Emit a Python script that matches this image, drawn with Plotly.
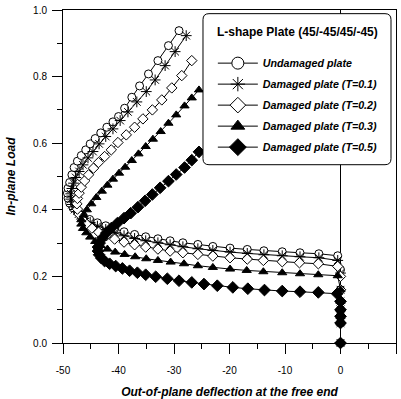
import plotly.graph_objects as go

# ---------------- data ----------------
undamaged_x = [0, 0, 0, 0, 0, 0, 0,
               -0.5, -3.9, -7.3, -10.5, -13.8, -16.8, -19.9, -23.0, -25.7, -28.4,
               -30.7, -32.9, -35.1, -37.1, -39.0, -40.7, -42.3, -43.8, -45.2, -46.4,
               -47.4, -48.2, -48.8, -49.1, -49.2, -49.1, -48.8, -48.4, -48.0, -47.4,
               -46.7, -45.9, -45.1, -44.2, -43.2, -42.1, -41.0, -40.0, -38.9, -37.6,
               -36.2, -34.6, -32.9, -31.0, -29.1]
undamaged_y = [0, 0.06, 0.08, 0.10, 0.125, 0.16, 0.22,
               0.262, 0.268, 0.271, 0.274, 0.277, 0.281, 0.285, 0.290, 0.296, 0.301,
               0.307, 0.313, 0.319, 0.326, 0.334, 0.343, 0.352, 0.361, 0.371, 0.382,
               0.394, 0.406, 0.420, 0.435, 0.450, 0.465, 0.482, 0.505, 0.527, 0.546,
               0.563, 0.580, 0.598, 0.614, 0.631, 0.648, 0.664, 0.680, 0.705, 0.738,
               0.772, 0.808, 0.848, 0.893, 0.938]

t01_x = [0, 0, 0, 0, 0, 0, 0,
         -0.5, -3.9, -7.3, -10.5, -13.8, -16.8, -19.9, -23.0, -25.7, -28.4,
         -30.7, -32.9, -35.1, -37.1, -39.0, -40.7, -42.3, -43.8, -45.1, -46.3,
         -47.2, -47.9, -48.4, -48.6, -48.6, -48.4, -48.1, -47.7, -47.1, -46.4,
         -45.5, -44.6, -43.5, -42.3, -41.0, -39.7, -38.3, -36.7, -35.0, -33.4,
         -31.6, -29.8, -27.8]
t01_y = [0, 0.06, 0.08, 0.10, 0.125, 0.16, 0.21,
         0.248, 0.256, 0.259, 0.262, 0.265, 0.269, 0.273, 0.278, 0.283, 0.289,
         0.295, 0.301, 0.307, 0.314, 0.322, 0.331, 0.341, 0.351, 0.362, 0.374,
         0.387, 0.401, 0.416, 0.432, 0.448, 0.464, 0.480, 0.497, 0.515, 0.535,
         0.556, 0.575, 0.598, 0.620, 0.643, 0.668, 0.694, 0.724, 0.755, 0.790,
         0.833, 0.875, 0.923]

t02_x = [0, 0, 0, 0, 0, 0, 0,
         -0.5, -4.0, -7.4, -10.5, -13.9, -16.8, -19.9, -23.0, -25.7, -28.4,
         -30.7, -32.9, -35.1, -37.1, -39.0, -40.7, -42.2, -43.6, -44.8, -45.8,
         -46.6, -47.1, -47.4, -47.5, -47.4, -47.1, -46.7, -46.1, -45.4, -44.5,
         -43.6, -42.5, -41.3, -40.1, -38.6, -37.1, -35.6, -33.9, -32.2, -30.4,
         -28.6, -26.8]
t02_y = [0, 0.06, 0.08, 0.10, 0.125, 0.16, 0.20,
         0.230, 0.238, 0.241, 0.244, 0.248, 0.252, 0.256, 0.261, 0.266, 0.271,
         0.276, 0.282, 0.288, 0.295, 0.303, 0.312, 0.322, 0.333, 0.345, 0.358,
         0.372, 0.387, 0.402, 0.418, 0.434, 0.450, 0.468, 0.487, 0.505, 0.525,
         0.542, 0.560, 0.580, 0.602, 0.625, 0.648, 0.673, 0.700, 0.730, 0.766,
         0.803, 0.848]

t03_x = [0, 0, 0, 0, 0, 0,
         -0.5, -4.0, -7.3, -10.5, -13.9, -16.9, -19.9, -23.0, -25.7, -28.2,
         -30.6, -32.9, -35.0, -37.0, -38.9, -40.6, -42.0, -43.2, -44.2, -45.1,
         -45.8, -46.4, -46.7, -46.7, -46.3, -45.7, -44.9, -44.0, -43.0, -42.0,
         -41.0, -39.9, -38.8, -37.6, -36.4, -35.1, -33.8, -32.4, -31.0, -29.6,
         -28.1, -26.8, -25.5]
t03_y = [0, 0.06, 0.08, 0.10, 0.125, 0.16,
         0.202, 0.205, 0.208, 0.211, 0.214, 0.218, 0.222, 0.227, 0.232, 0.238,
         0.243, 0.248, 0.253, 0.259, 0.266, 0.273, 0.282, 0.293, 0.305, 0.318,
         0.331, 0.344, 0.357, 0.370, 0.384, 0.400, 0.418, 0.437, 0.456, 0.474,
         0.492, 0.510, 0.528, 0.548, 0.568, 0.590, 0.612, 0.635, 0.660, 0.685,
         0.712, 0.736, 0.760]

t05_x = [0, 0, 0, 0, 0,
         -0.6, -4.0, -7.3, -10.5, -13.7, -16.7, -19.4, -22.2, -24.6, -26.8,
         -29.1, -31.2, -33.3, -35.1, -36.6, -38.0, -39.3, -40.5, -41.6, -42.5,
         -43.1, -43.5, -43.7, -43.7, -43.4, -42.9, -42.2, -41.3, -40.2, -39.0,
         -37.8, -36.5, -35.2, -33.9, -32.5, -31.0, -29.6, -28.1, -26.8, -25.5]
t05_y = [0, 0.06, 0.08, 0.10, 0.125,
         0.148, 0.152, 0.154, 0.156, 0.159, 0.163, 0.167, 0.172, 0.177, 0.182,
         0.187, 0.193, 0.199, 0.205, 0.211, 0.217, 0.224, 0.231, 0.238, 0.246,
         0.255, 0.265, 0.276, 0.288, 0.300, 0.315, 0.330, 0.345, 0.360, 0.375,
         0.390, 0.408, 0.427, 0.446, 0.466, 0.486, 0.506, 0.527, 0.549, 0.574]

series_names = ["Undamaged plate", "Damaged plate (T=0.1)", "Damaged plate (T=0.2)",
                "Damaged plate (T=0.3)", "Damaged plate (T=0.5)"]
legend_title = "L-shape Plate (45/-45/45/-45)"

x_tick_vals = [-50, -40, -30, -20, -10, 0, 10]
x_tick_text = ["-50", "-40", "-30", "-20", "-10", "0", "10"]
x_minor_vals = [-45, -35, -25, -15, -5, 5]
y_tick_vals = [0.0, 0.2, 0.4, 0.6, 0.8, 1.0]
y_tick_text = ["0.0", "0.2", "0.4", "0.6", "0.8", "1.0"]
y_minor_vals = [0.1, 0.3, 0.5, 0.7, 0.9]

# ---------------- styling ----------------
FONT = "Liberation Sans, Arial, sans-serif"
styles = [
    dict(symbol="circle", color="white", size=8, lsize=12),
    dict(symbol="asterisk-open", color="black", size=9, lsize=12),
    dict(symbol="diamond", color="white", size=8, lsize=12),
    dict(symbol="triangle-up", color="black", size=8, lsize=12),
    dict(symbol="diamond", color="black", size=9, lsize=13),
]
data = [(undamaged_x, undamaged_y), (t01_x, t01_y), (t02_x, t02_y),
        (t03_x, t03_y), (t05_x, t05_y)]

fig = go.Figure()
for i, ((xs, ys), name, st) in enumerate(zip(data, series_names, styles)):
    fig.add_trace(go.Scatter(
        x=xs, y=ys, name=name, mode="lines+markers",
        line=dict(color="black", width=1),
        marker=dict(symbol=st["symbol"], size=st["size"], color=st["color"],
                    line=dict(color="black", width=1)),
        cliponaxis=False, showlegend=False, legendgroup=f"g{i}",
    ))
# legend entries (larger symbols, as in the reference legend)
for i, (name, st) in enumerate(zip(series_names, styles)):
    fig.add_trace(go.Scatter(
        x=[None], y=[None], name=name, mode="lines+markers",
        line=dict(color="black", width=1),
        marker=dict(symbol=st["symbol"], size=st["lsize"], color=st["color"],
                    line=dict(color="black", width=1)),
        showlegend=True, legendgroup=f"g{i}",
    ))

# rounded legend box
px0, px1 = 0.4204, 0.985
py0, py1 = 0.5354, 0.989
rx, ry = 0.018, 0.018
path = (f"M{px0+rx},{py0} L{px1-rx},{py0} Q{px1},{py0} {px1},{py0+ry} "
        f"L{px1},{py1-ry} Q{px1},{py1} {px1-rx},{py1} L{px0+rx},{py1} "
        f"Q{px0},{py1} {px0},{py1-ry} L{px0},{py0+ry} Q{px0},{py0} {px0+rx},{py0} Z")
fig.add_shape(type="path", path=path, xref="paper", yref="paper",
              fillcolor="white", line=dict(color="black", width=1), layer="above")

fig.add_annotation(text=legend_title, xref="paper", yref="paper",
                   x=0.703, y=0.935, xanchor="center", yanchor="middle", showarrow=False,
                   font=dict(family=FONT, size=12, weight="bold", color="black"))

axis_common = dict(
    showgrid=False, showline=True, linecolor="black", linewidth=1, mirror=True,
    ticks="outside", ticklen=10, tickwidth=1, tickcolor="black",
    tickfont=dict(family=FONT, size=10, color="black"),
    tickmode="array",
)

fig.update_xaxes(
    **axis_common, range=[-50, 10], tickvals=x_tick_vals, ticktext=x_tick_text,
    minor=dict(tickmode="array", tickvals=x_minor_vals, ticks="outside",
               ticklen=5, tickwidth=1, tickcolor="black", showgrid=False),
    zeroline=True, zerolinecolor="black", zerolinewidth=1,
    ticklabelstandoff=8,
    title=dict(text="Out-of-plane deflection at the free end", standoff=14,
               font=dict(family=FONT, size=12, weight="bold", style="italic", color="black")),
)
fig.update_yaxes(
    **axis_common, range=[0, 1.0], tickvals=y_tick_vals, ticktext=y_tick_text,
    minor=dict(tickmode="array", tickvals=y_minor_vals, ticks="outside",
               ticklen=5, tickwidth=1, tickcolor="black", showgrid=False),
    zeroline=False,
    ticklabelstandoff=3,
    title=dict(text="In-plane Load", standoff=14,
               font=dict(family=FONT, size=12, weight="bold", style="italic", color="black")),
)

fig.update_layout(
    width=401, height=399,
    margin=dict(l=63, r=5, t=10, b=56, autoexpand=False),
    paper_bgcolor="white", plot_bgcolor="white",
    font=dict(family=FONT, color="black"),
    showlegend=True,
    legend=dict(
        x=0.45, y=0.884, xanchor="left", yanchor="top",
        bgcolor="rgba(0,0,0,0)", borderwidth=0,
        font=dict(family=FONT, size=10.7, weight="bold", style="italic", color="black"),
        itemwidth=40, tracegroupgap=2,
    ),
)

fig.write_html("out.html")
